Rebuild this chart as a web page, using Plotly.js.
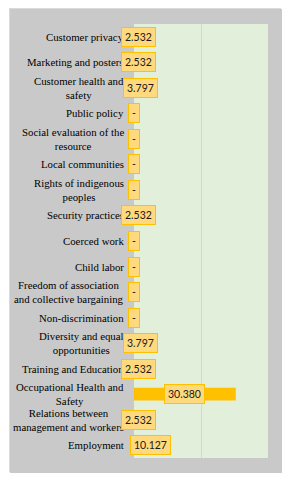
<!DOCTYPE html>
<html>
<head>
<meta charset="utf-8">
<script src="https://cdn.plot.ly/plotly-3.0.1.min.js"></script>
<style>
  html, body { margin: 0; padding: 0; background: #ffffff; width: 288px; height: 480px; overflow: hidden; }
  #chart { position: absolute; left: 9px; top: 8px; width: 272px; height: 464px; border: 1px solid #dadada; box-sizing: border-box; }
</style>
</head>
<body>
<div id="chart"></div>
<script>
const categories = [
  "Customer privacy",
  "Marketing and posters",
  "Customer health and<br>safety",
  "Public policy",
  "Social evaluation of the<br>resource",
  "Local communities",
  "Rights of indigenous<br>peoples",
  "Security practices",
  "Coerced work",
  "Child labor",
  "Freedom of association<br>and collective bargaining",
  "Non-discrimination",
  "Diversity and equal<br>opportunities",
  "Training and Education",
  "Occupational Health and<br>Safety",
  "Relations between<br>management and workers",
  "Employment"
];
const values = [2.532, 2.532, 3.797, 0, 0, 0, 0, 2.532, 0, 0, 0, 0, 3.797, 2.532, 30.380, 2.532, 10.127];
const axisTicks = [0, 20, 40];

const barColor = "#FFC000";
const serif = "Liberation Serif";

const annotations = [];
categories.forEach((c, i) => {
  annotations.push({
    xref: "paper", yref: "y", x: 0, y: c, xanchor: "right", yanchor: "middle",
    xshift: -8, text: c, showarrow: false, align: "center",
    font: { family: serif, size: 10.8, color: "#000000" }
  });
  const v = values[i];
  annotations.push({
    xref: "x", yref: "y", x: v / 2, y: c, xanchor: "center", yanchor: "middle",
    text: v > 0 ? v.toFixed(3) : "-", showarrow: false,
    bgcolor: "#FFD97E", bordercolor: "#FFC000", borderwidth: 1, borderpad: 3,
    font: { family: "Lato", size: 10.5, color: "#1a1a1a" }
  });
});

const trace = {
  type: "bar", orientation: "h",
  x: values, y: categories,
  marker: { color: barColor },
  width: 0.5,
  hoverinfo: "none"
};

const layout = {
  width: 272, height: 464,
  margin: { l: 124, r: 14, t: 15, b: 15 },
  paper_bgcolor: "#C9C9C9",
  plot_bgcolor: "#E2EFDA",
  showlegend: false,
  xaxis: {
    range: [0, 40], tickvals: axisTicks, showticklabels: false,
    showgrid: true, gridcolor: "#D0DCC7", gridwidth: 1,
    zeroline: false, showline: false, fixedrange: true
  },
  yaxis: {
    type: "category", autorange: "reversed", showticklabels: false,
    showgrid: false, zeroline: false, showline: false, fixedrange: true
  },
  annotations: annotations
};

Plotly.newPlot("chart", [trace], layout, { displayModeBar: false, staticPlot: true });
</script>
</body>
</html>
